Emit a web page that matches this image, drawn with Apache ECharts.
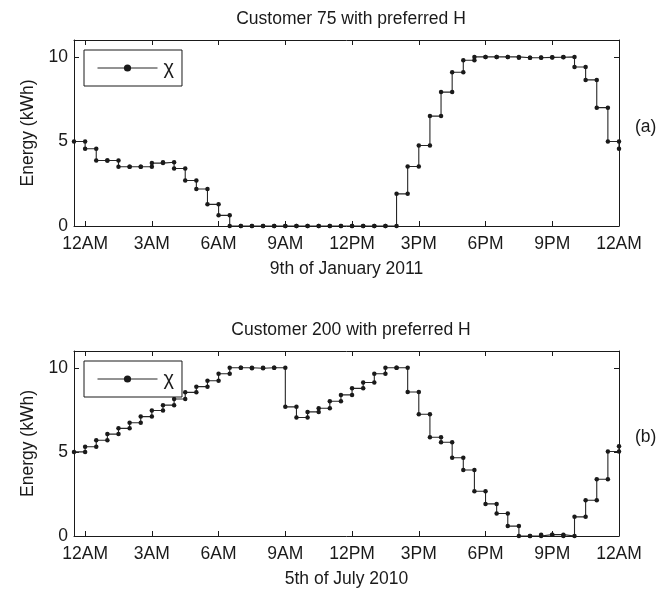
<!DOCTYPE html>
<html>
<head>
<meta charset="utf-8">
<script src="https://cdn.jsdelivr.net/npm/echarts@6/dist/echarts.min.js"></script>
<style>
html, body { margin: 0; padding: 0; background: #fff; }
#chart { width: 670px; height: 589px; }
</style>
</head>
<body>
<div id="chart"></div>
<script>
// half-hour time stamps (hours after midnight)
var hours = [-0.5, 0, 0.5, 1, 1.5, 2, 2.5, 3, 3.5, 4, 4.5, 5, 5.5, 6, 6.5, 7, 7.5, 8, 8.5, 9,
    9.5, 10, 10.5, 11, 11.5, 12, 12.5, 13, 13.5, 14, 14.5, 15, 15.5, 16, 16.5, 17, 17.5, 18, 18.5, 19,
    19.5, 20, 20.5, 21, 21.5, 22, 22.5, 23, 23.5, 24];

// Customer 75, 9th of January 2011
var energyA = [5.0, 4.57, 3.87, 3.87, 3.5, 3.5, 3.5, 3.72, 3.77, 3.4, 2.69, 2.19, 1.28, 0.63, 0, 0, 0, 0, 0, 0,
    0, 0, 0, 0, 0, 0, 0, 0, 0, 1.9, 3.52, 4.76, 6.5, 7.92, 9.09, 9.8, 10.0, 10.0, 10.0, 10.0,
    9.95, 9.95, 9.97, 9.98, 10.0, 9.4, 8.64, 7.0, 5.0, 4.57];

// Customer 200, 5th of July 2010
var energyB = [5.0, 5.31, 5.69, 6.06, 6.4, 6.73, 7.1, 7.46, 7.78, 8.15, 8.54, 8.88, 9.23, 9.65, 10.0, 10.0, 9.97, 10.0, 10.0, 7.68,
    7.05, 7.38, 7.6, 8.01, 8.39, 8.78, 9.13, 9.65, 10.0, 10.0, 8.56, 7.24, 5.87, 5.57, 4.65, 3.92, 2.66, 1.91, 1.34, 0.59,
    0, 0, 0.08, 0.08, 0, 1.14, 2.13, 3.37, 5.02, 5.33];

var tickHours = [0, 3, 6, 9, 12, 15, 18, 21, 24];
var tickLabels = ['12AM', '3AM', '6AM', '9AM', '12PM', '3PM', '6PM', '9PM', '12AM'];

var FONT = '"Liberation Sans", Arial, sans-serif';
var FS = 17.5;
var INK = '#1a1a1a';

// stairs: every vertex of the step line gets a marker (like matlab stairs)
function stairs(xs, ys) {
    var pts = [];
    for (var i = 0; i < xs.length; i++) {
        pts.push([xs[i], ys[i]]);
        if (i < xs.length - 1) pts.push([xs[i + 1], ys[i]]);
    }
    return pts;
}

function xAxisFor(gridIndex, isTop, name) {
    return {
        type: 'value',
        gridIndex: gridIndex,
        position: isTop ? 'top' : 'bottom',
        min: -0.5,
        max: 24,
        name: isTop ? '' : name,
        nameLocation: 'middle',
        nameGap: 34,
        nameTextStyle: { fontFamily: FONT, fontSize: FS, color: INK },
        axisLine: { show: true, onZero: false, lineStyle: { color: INK, width: 1 } },
        axisTick: { show: true, inside: true, length: 5, customValues: tickHours, lineStyle: { color: INK } },
        axisLabel: {
            show: !isTop,
            customValues: tickHours,
            margin: 9,
            fontFamily: FONT, fontSize: FS, color: INK,
            formatter: function (v) { return tickLabels[tickHours.indexOf(v)]; }
        },
        splitLine: { show: false }
    };
}

function yAxisFor(gridIndex, isRight) {
    return {
        type: 'value',
        gridIndex: gridIndex,
        position: isRight ? 'right' : 'left',
        min: 0,
        max: 11,
        interval: 5,
        name: isRight ? '' : 'Energy (kWh)',
        nameLocation: 'middle',
        nameGap: 37,
        nameTextStyle: { fontFamily: FONT, fontSize: FS, color: INK },
        axisLine: { show: true, onZero: false, lineStyle: { color: INK, width: 1 } },
        axisTick: { show: true, inside: true, length: 5, lineStyle: { color: INK } },
        axisLabel: {
            show: !isRight, margin: 6, fontFamily: FONT, fontSize: FS, color: INK,
            formatter: function (v) { return v > 10 ? '' : v; }
        },
        splitLine: { show: false }
    };
}

function stairSeries(name, xIdx, yIdx, ys) {
    return {
        name: name,
        type: 'line',
        xAxisIndex: xIdx,
        yAxisIndex: yIdx,
        data: stairs(hours, ys),
        symbol: 'circle',
        symbolSize: 4.5,
        showAllSymbol: true,
        itemStyle: { color: INK },
        lineStyle: { color: '#262626', width: 1.1 },
        animation: false
    };
}

function legendFor(top, seriesName) {
    return {
        data: [seriesName],
        left: 84,
        top: top,
        orient: 'vertical',
        backgroundColor: '#fff',
        borderColor: INK,
        borderWidth: 1,
        borderRadius: 0,
        padding: [8, 8, 8, 13],
        itemWidth: 60,
        itemHeight: 9,
        itemGap: 0,
        lineStyle: { width: 1, color: '#262626' },
        textStyle: { fontFamily: FONT, fontSize: 20, lineHeight: 20, color: INK, padding: [0, 0, 0, 1] },
        formatter: function () { return 'χ'; }
    };
}

var chart = echarts.init(document.getElementById('chart'), null, { renderer: 'canvas' });
chart.setOption({
    backgroundColor: '#fff',
    animation: false,
    title: [
        { text: 'Customer 75 with preferred H', left: 346, top: 5, textAlign: 'center',
          textStyle: { fontFamily: FONT, fontSize: FS, fontWeight: 'normal', color: INK } },
        { text: 'Customer 200 with preferred H', left: 346, top: 316, textAlign: 'center',
          textStyle: { fontFamily: FONT, fontSize: FS, fontWeight: 'normal', color: INK } },
        { text: '(a)', left: 630, top: 113,
          textStyle: { fontFamily: FONT, fontSize: FS, fontWeight: 'normal', color: INK } },
        { text: '(b)', left: 630, top: 423,
          textStyle: { fontFamily: FONT, fontSize: FS, fontWeight: 'normal', color: INK } }
    ],
    legend: [legendFor(50, 'chiA'), legendFor(361, 'chiB')],
    grid: [
        { left: 74, top: 40, width: 545, height: 186 },
        { left: 74, top: 351, width: 545, height: 186 }
    ],
    xAxis: [
        xAxisFor(0, false, '9th of January 2011'),
        xAxisFor(0, true, ''),
        xAxisFor(1, false, '5th of July 2010'),
        xAxisFor(1, true, '')
    ],
    yAxis: [
        yAxisFor(0, false),
        yAxisFor(0, true),
        yAxisFor(1, false),
        yAxisFor(1, true)
    ],
    series: [
        stairSeries('chiA', 0, 0, energyA),
        stairSeries('chiB', 2, 2, energyB)
    ]
});
</script>
</body>
</html>
